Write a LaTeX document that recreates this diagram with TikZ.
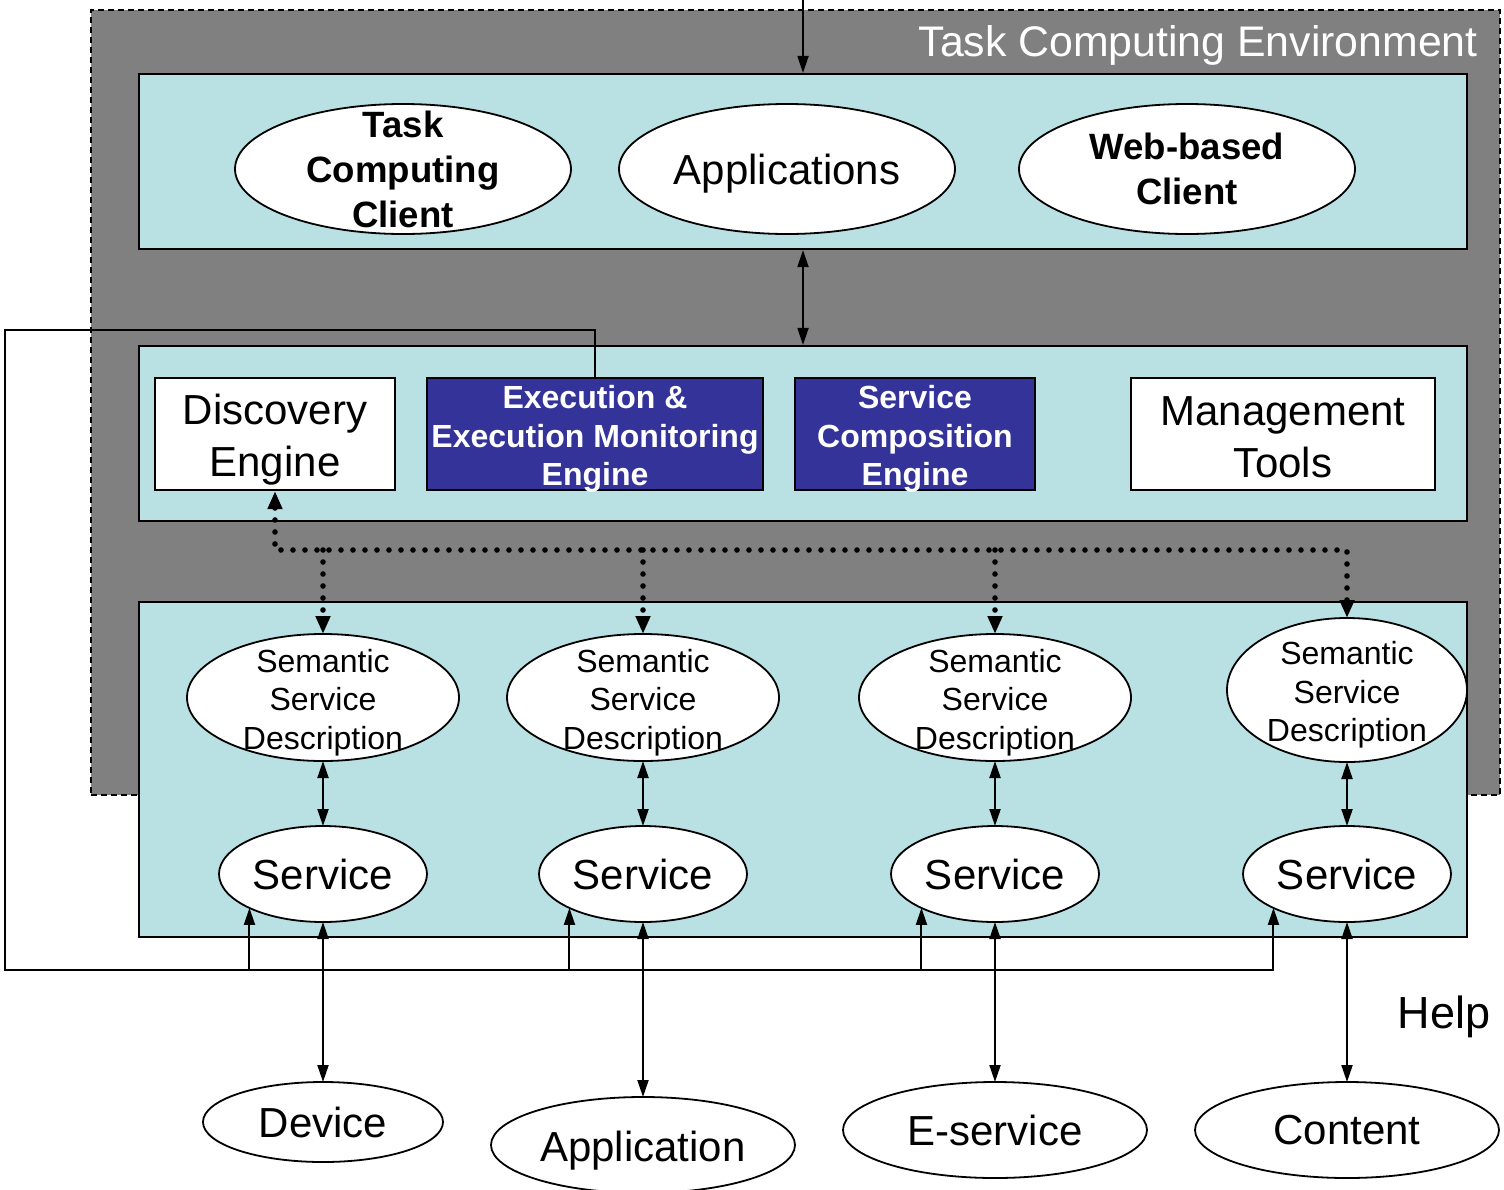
\documentclass[tikz,border=0pt]{standalone}
\usepackage{fontspec}
\setmainfont{Liberation Sans}
\usetikzlibrary{shapes.geometric,arrows.meta}
\definecolor{envgray}{RGB}{128,128,128}
\definecolor{panelc}{RGB}{185,224,227}
\definecolor{engineblue}{RGB}{51,51,153}

\begin{document}
\begin{tikzpicture}[x=0.5pt,y=-0.5pt,
  >={Triangle[length=8.5pt,width=5.5pt]},
  envbox/.style={draw=black,line width=0.8pt,dash pattern=on 3pt off 2pt,fill=envgray,inner sep=0pt},
  panelbox/.style={draw=black,line width=1.1pt,fill=panelc,inner sep=0pt},
  oval/.style={ellipse,draw=black,line width=0.9pt,fill=white,inner sep=0pt,outer sep=0pt},
  ovaltext/.style={align=center,inner sep=0pt,text=black},
  bigtext/.style={font=\fontsize{21}{26}\selectfont},
  boldtext/.style={font=\bfseries\fontsize{18.3}{22.5}\selectfont},
  smalltext/.style={font=\fontsize{16}{19.25}\selectfont},
  enginetext/.style={align=center,inner sep=0pt,text=white,font=\bfseries\fontsize{16}{19.25}\selectfont},
  toolbox/.style={draw=black,line width=1.1pt,fill=white,inner sep=0pt},
  enginebox/.style={draw=black,line width=1.1pt,fill=engineblue,inner sep=0pt},
  link/.style={draw=black,line width=1pt},
  dotlink/.style={draw=black,line width=2.8pt,dash pattern=on 0pt off 6pt,line cap=round},
  dothead/.style={-{Triangle[length=9pt,width=7pt]}},
  dotboth/.style={{Triangle[length=9pt,width=7pt]}-{Triangle[length=9pt,width=7pt]}},
  semdesc/.style={oval,minimum width=136pt,minimum height=63.5pt},
  svc/.style={oval,minimum width=104pt,minimum height=48pt},
  source/.style={oval,minimum width=152pt,minimum height=48pt}
]
\useasboundingbox (0,0) rectangle (1504,1189);

% environment frame
\node[envbox,minimum width=704.5pt,minimum height=392.5pt] (env) at (795.5,402.5) {};
\node[anchor=base east,text=white,font=\fontsize{21.4}{25}\selectfont,inner sep=0pt] (envtitle) at (1478,56) {Task Computing Environment};

% three layers
\node[panelbox,minimum width=664pt,minimum height=87.5pt] (clients) at (803,161.5) {};
\node[panelbox,minimum width=664pt,minimum height=87.5pt] (engines) at (803,433.5) {};
\node[panelbox,minimum width=664pt,minimum height=167.5pt] (services) at (803,769.5) {};

% client layer
\node[oval,minimum width=168pt,minimum height=65pt,
      label={[ovaltext,boldtext]center:Task\\Computing\\Client}] (tcc) at (403,169) {};
\node[oval,minimum width=168pt,minimum height=65pt,
      label={[ovaltext,bigtext,yshift=-2.5pt]center:Applications}] (apps) at (787,169) {};
\node[oval,minimum width=168pt,minimum height=65pt,
      label={[ovaltext,boldtext]center:Web-based\\Client}] (web) at (1187,169) {};

% engine layer
\node[toolbox,minimum width=120pt,minimum height=56pt,
      label={[ovaltext,bigtext,yshift=-3pt]center:Discovery\\Engine}] (disc) at (275,434) {};
\node[enginebox,minimum width=168pt,minimum height=56pt,
      label={[enginetext,yshift=-2.5pt]center:Execution \&\\Execution Monitoring\\Engine}] (exec) at (595,434) {};
\node[enginebox,minimum width=120pt,minimum height=56pt,
      label={[enginetext,yshift=-2.5pt]center:Service\\Composition\\Engine}] (comp) at (915,434) {};
\node[toolbox,minimum width=152pt,minimum height=56pt,
      label={[ovaltext,bigtext,yshift=-1.5pt]center:Management\\Tools}] (mgmt) at (1283,434) {};

% semantic descriptions
\node[semdesc,label={[ovaltext,smalltext,yshift=-2.5pt]center:Semantic\\Service\\Description}] (sd1) at (323,697.5) {};
\node[semdesc,label={[ovaltext,smalltext,yshift=-2.5pt]center:Semantic\\Service\\Description}] (sd2) at (643,697.5) {};
\node[semdesc,label={[ovaltext,smalltext,yshift=-2.5pt]center:Semantic\\Service\\Description}] (sd3) at (995,697.5) {};
\node[oval,minimum width=120pt,minimum height=72pt,
      label={[ovaltext,smalltext,yshift=-2.5pt]center:Semantic\\Service\\Description}] (sd4) at (1347,690) {};

% services
\node[svc,label={[ovaltext,bigtext]center:Service}] (svc1) at (323,874) {};
\node[svc,label={[ovaltext,bigtext]center:Service}] (svc2) at (643,874) {};
\node[svc,label={[ovaltext,bigtext]center:Service}] (svc3) at (995,874) {};
\node[svc,label={[ovaltext,bigtext]center:Service}] (svc4) at (1347,874) {};

% service sources
\node[oval,minimum width=120pt,minimum height=40pt,label={[ovaltext,bigtext]center:Device}] (dev) at (323,1122) {};
\node[source,label={[ovaltext,bigtext,yshift=-3pt]center:Application}] (app) at (643,1145) {};
\node[source,label={[ovaltext,bigtext]center:E-service}] (eserv) at (995,1130) {};
\node[source,label={[ovaltext,bigtext]center:Content}] (content) at (1347,1130) {};

\node[anchor=base,font=\fontsize{22.5}{27}\selectfont,inner sep=0pt] (help) at (1444,1028) {Help};

% connectors between layers
\coordinate (feed) at (803,0);
\draw[link,->] (feed) -- (clients.north);
\draw[link,<->] (clients.south) -- (engines.north);

% discovery bus
\coordinate (busL) at (275,550);
\coordinate (busR) at (1347,550);
\draw[dotlink,dotboth] (disc.south) -- (busL) -- (busR) -- (sd4.north);
\foreach \i in {1,2,3}{
  \draw[dotlink,dothead] (sd\i.north |- busL) -- (sd\i.north);
}

% descriptions to services, services to sources
\foreach \i in {1,2,3,4}{
  \draw[link,<->] (sd\i.south) -- (svc\i.north);
}
\draw[link,<->] (svc1.south) -- (dev.north);
\draw[link,<->] (svc2.south) -- (app.north);
\draw[link,<->] (svc3.south) -- (eserv.north);
\draw[link,<->] (svc4.south) -- (content.north);

% execution engine invokes services
\coordinate (loopTL) at (5,330);
\coordinate (loopBL) at (5,970);
\draw[link,->] (exec.north) |- (loopTL) -- (loopBL) -| (svc4.south west);
\foreach \i in {1,2,3}{
  \draw[link,->] (svc\i.south west |- loopBL) -- (svc\i.south west);
}
\end{tikzpicture}
\end{document}
